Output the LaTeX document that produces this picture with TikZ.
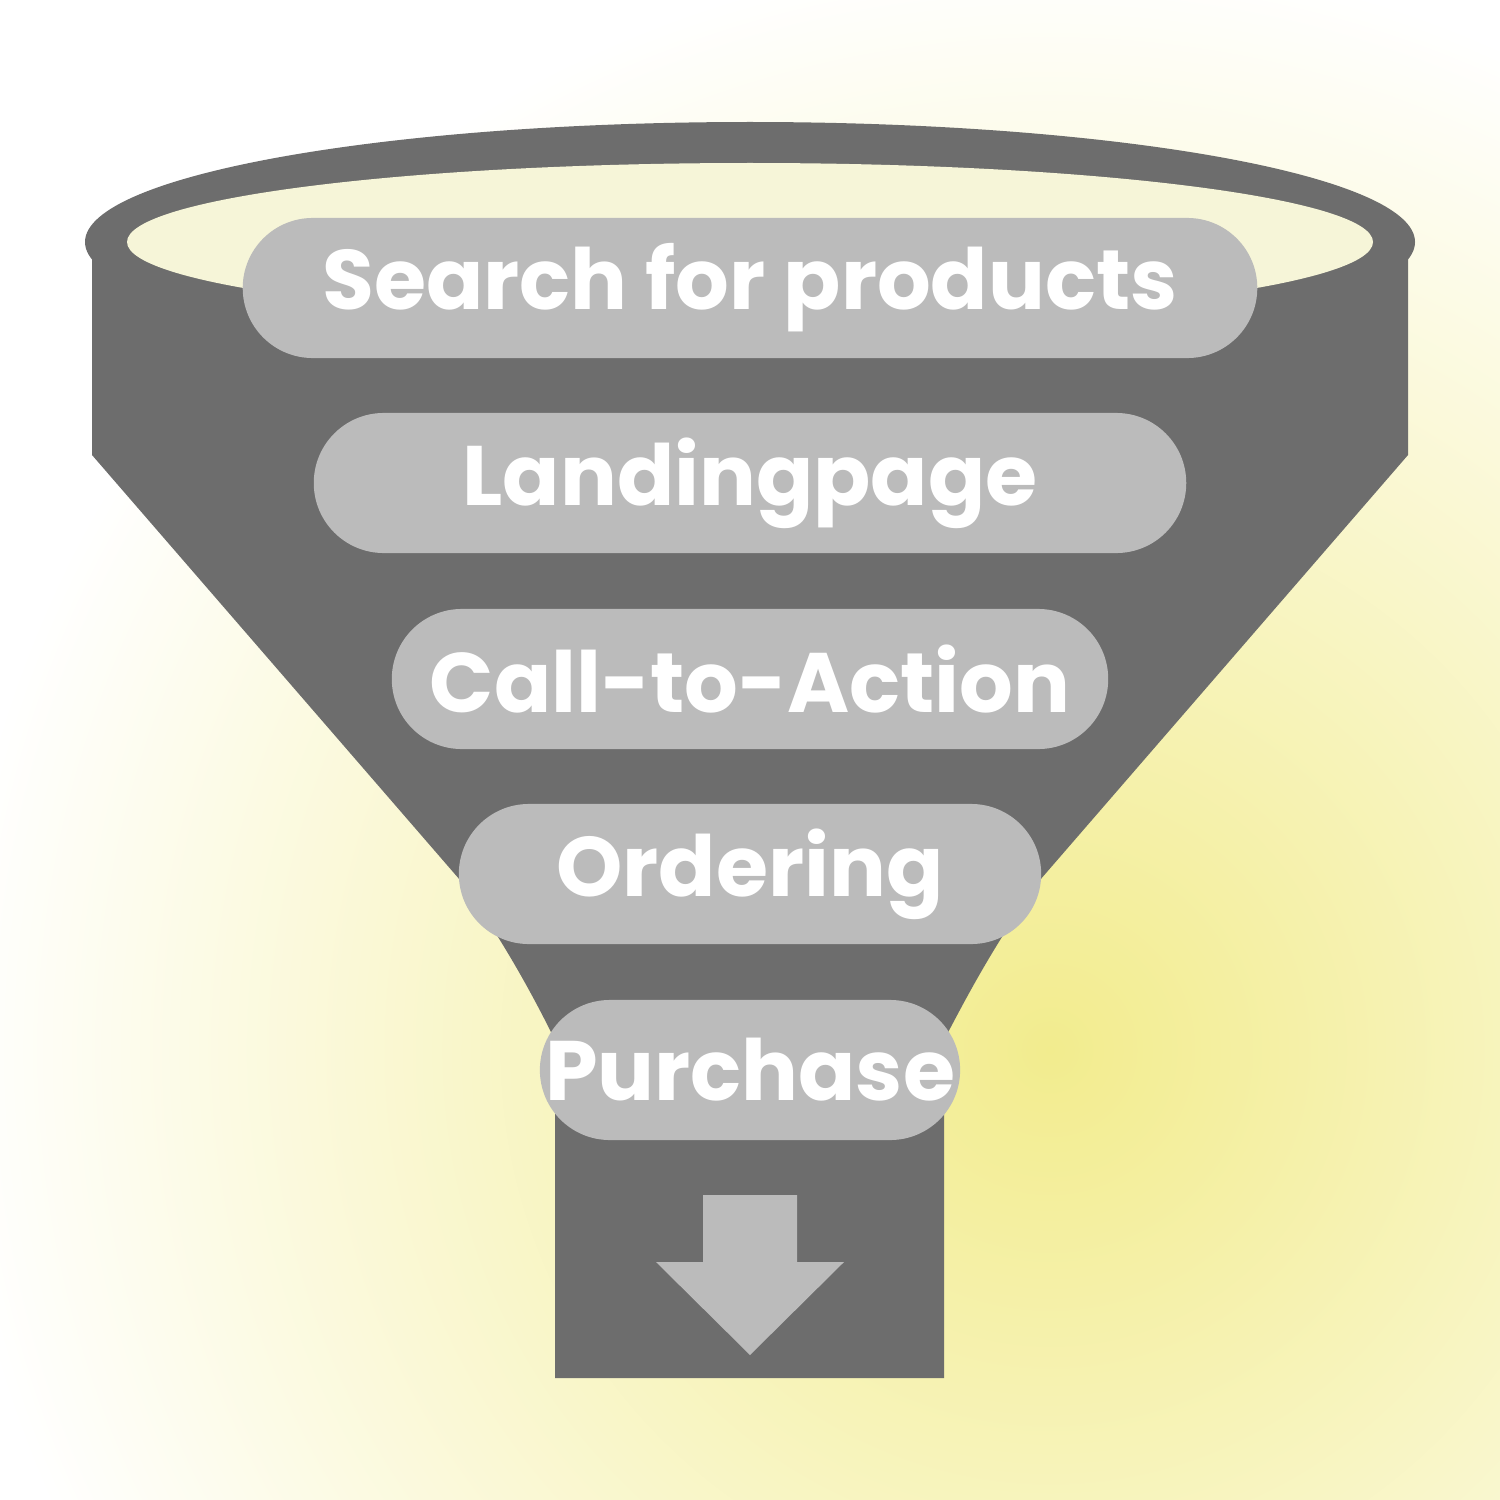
\documentclass[tikz,border=0pt]{standalone}
\usepackage{fontspec}
\setmainfont{Poppins}
\definecolor{funnelgray}{HTML}{6D6D6D}
\definecolor{pillgray}{HTML}{BBBBBB}
\definecolor{glow}{HTML}{F2EC8E}
\definecolor{rimin}{HTML}{F6F5D8}
\tikzset{
  stage/.style={fill=pillgray, rounded corners=0.7cm, minimum height=1.4cm,
    text=white, font=\fontsize{24}{28}\selectfont\bfseries, inner sep=0pt}
}
\begin{document}
\begin{tikzpicture}[x=0.01cm,y=-0.01cm]

\useasboundingbox (0,0) rectangle (1500,1500);
\clip (0,0) rectangle (1500,1500);
\shade[inner color=glow, outer color=white] (1050,1050) circle (1100);
% funnel body
\fill[funnelgray] (92,240) -- (92,455) -- (460,880)
  .. controls (510,950) and (540,1010) .. (555,1040) -- (555,1378) -- (944,1378)
  -- (944,1040) .. controls (960,1010) and (990,950) .. (1040,880)
  -- (1408,455) -- (1408,240) -- cycle;
\fill[funnelgray] (750,242) ellipse (665 and 120);
\fill[rimin] (750,242) ellipse (623 and 79);
% stages
\node[stage, minimum width=10.14cm] (search) at (750,288) {Search for products};
\node[stage, minimum width=8.72cm] (landing) at (750,483) {Landingpage};
\node[stage, minimum width=7.16cm] (cta) at (750,679) {Call-to-Action};
\node[stage, minimum width=5.82cm] (order) at (750,874) {Ordering};
\node[stage, minimum width=4.20cm] (purchase) at (750,1070) {Purchase};
% arrow
\fill[pillgray] (703,1195) -- (797,1195) -- (797,1262) -- (844,1262) -- (750,1355)
  -- (656,1262) -- (703,1262) -- cycle;

\end{tikzpicture}
\end{document}
